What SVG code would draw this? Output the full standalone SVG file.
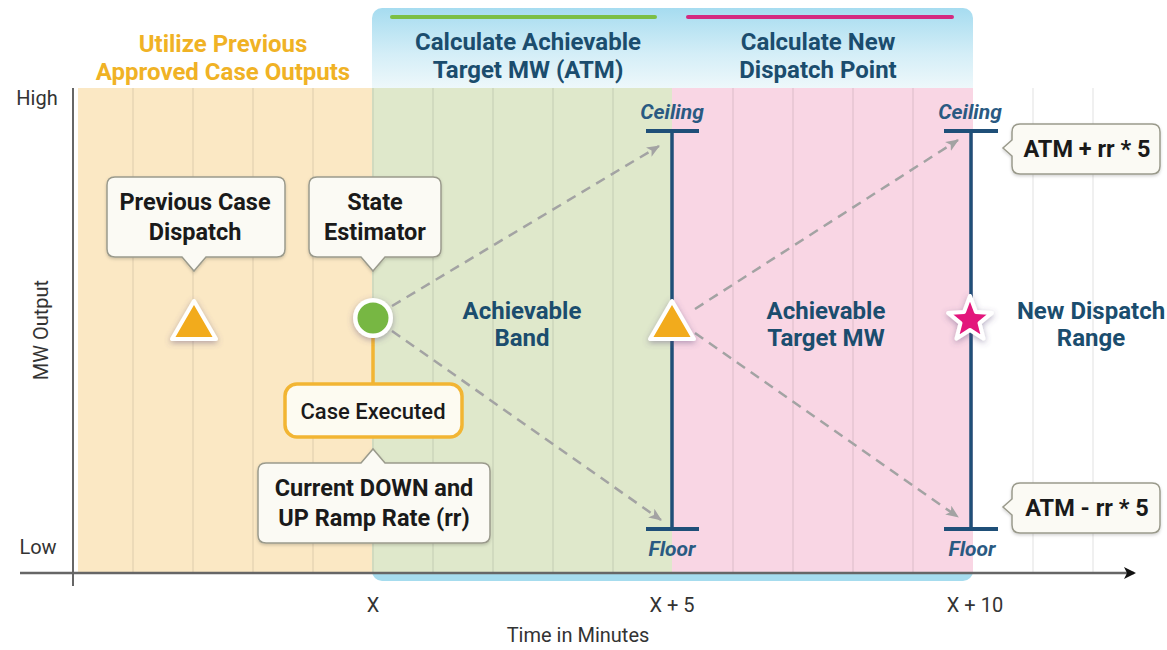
<svg xmlns="http://www.w3.org/2000/svg" width="1167" height="650" viewBox="0 0 1167 650">
<defs>
<linearGradient id="panelGrad" gradientUnits="userSpaceOnUse" x1="0" y1="8" x2="0" y2="92">
<stop offset="0" stop-color="#a6dcf0"/>
<stop offset="0.55" stop-color="#d4eef7"/>
<stop offset="1" stop-color="#f1f9fb"/>
</linearGradient>
<filter id="glow" x="-50%" y="-50%" width="200%" height="200%">
<feDropShadow dx="0" dy="2" stdDeviation="3" flood-color="#5a4a7a" flood-opacity="0.45"/>
</filter>
<filter id="soft" x="-10%" y="-10%" width="120%" height="130%">
<feDropShadow dx="0" dy="1.5" stdDeviation="1.5" flood-color="#000" flood-opacity="0.18"/>
</filter>
<marker id="grayArrow" viewBox="0 0 12 10" refX="11" refY="5" markerWidth="13" markerHeight="11" markerUnits="userSpaceOnUse" orient="auto">
<path d="M0,0 L12,5 L0,10 L3,5 Z" fill="#a3a3a3"/>
</marker>
<marker id="axisArrow" viewBox="0 0 12 12" refX="10" refY="6" markerWidth="12" markerHeight="12" markerUnits="userSpaceOnUse" orient="auto">
<path d="M0,0 L12,6 L0,12 L3,6 Z" fill="#111"/>
</marker>
</defs>
<style>
.grid{stroke:#000;stroke-opacity:0.06;stroke-width:2}
.title{font-family:Roboto,"Liberation Sans",sans-serif;font-weight:700;font-size:24px;text-anchor:middle}
.blue{fill:#1b4d6e}
.orangeT{fill:#f0b225}
.lbl{font-family:Roboto,"Liberation Sans",sans-serif;font-weight:700;font-size:23.5px;text-anchor:middle;fill:#1a1a1a}
.blab{font-family:Roboto,"Liberation Sans",sans-serif;font-weight:700;font-size:24px;text-anchor:middle;fill:#1b4d6e}
.axisT{font-family:Roboto,"Liberation Sans",sans-serif;font-size:20px;fill:#333;text-anchor:middle}
.limit{font-family:Roboto,"Liberation Sans",sans-serif;font-weight:700;font-style:italic;font-size:21px;fill:#2a5a82;text-anchor:middle}
.callout{fill:#fbfaf4;stroke:#9a9a8c;stroke-width:1.5}
.dash{stroke:#a3a3a3;stroke-width:2.5;stroke-dasharray:10 7;fill:none}
.bar{stroke:#1f4f78;stroke-width:4;fill:none}
.vline{stroke:#1f4f78;stroke-width:3.5;fill:none}
</style>

<rect x="0" y="0" width="1167" height="650" fill="#ffffff"/>

<!-- panel and bands -->
<rect x="372" y="8" width="601" height="572" rx="10" fill="url(#panelGrad)"/>
<rect x="372" y="540" width="601" height="41" rx="10" fill="#a6dcee"/>
<rect x="78" y="88" width="294" height="485" fill="#fbe8c4"/>
<rect x="372" y="88" width="300" height="485" fill="#dfe8cb"/>
<rect x="672" y="88" width="301" height="485" fill="#f9d6e4"/>

<g id="grid">
<line class="grid" x1="133" y1="88" x2="133" y2="573"/>
<line class="grid" x1="193" y1="88" x2="193" y2="573"/>
<line class="grid" x1="253" y1="88" x2="253" y2="573"/>
<line class="grid" x1="313" y1="88" x2="313" y2="573"/>
<line class="grid" x1="373" y1="88" x2="373" y2="573"/>
<line class="grid" x1="433" y1="88" x2="433" y2="573"/>
<line class="grid" x1="493" y1="88" x2="493" y2="573"/>
<line class="grid" x1="553" y1="88" x2="553" y2="573"/>
<line class="grid" x1="613" y1="88" x2="613" y2="573"/>
<line class="grid" x1="733" y1="88" x2="733" y2="573"/>
<line class="grid" x1="793" y1="88" x2="793" y2="573"/>
<line class="grid" x1="853" y1="88" x2="853" y2="573"/>
<line class="grid" x1="913" y1="88" x2="913" y2="573"/>
<line class="grid" x1="1033" y1="88" x2="1033" y2="573" stroke-opacity="0.04"/>
<line class="grid" x1="1093" y1="88" x2="1093" y2="573" stroke-opacity="0.04"/>
</g>

<!-- section titles -->
<g id="title-utilize">
<text class="title orangeT" x="223" y="52">Utilize Previous</text>
<text class="title orangeT" x="223" y="80">Approved Case Outputs</text>
</g>
<g id="title-atm">
<line x1="392" y1="17" x2="655" y2="17" stroke="#7cbf45" stroke-width="4" stroke-linecap="round"/>
<text class="title blue" x="528" y="50">Calculate Achievable</text>
<text class="title blue" x="528" y="78">Target MW (ATM)</text>
</g>
<g id="title-dispatch">
<line x1="688" y1="17" x2="952" y2="17" stroke="#d42a80" stroke-width="4" stroke-linecap="round"/>
<text class="title blue" x="818" y="50">Calculate New</text>
<text class="title blue" x="818" y="78">Dispatch Point</text>
</g>

<!-- axes -->
<g id="axes">
<line x1="73" y1="88" x2="73" y2="586" stroke="#666" stroke-width="2"/>
<line x1="20" y1="573" x2="1134" y2="573" stroke="#666" stroke-width="2.5" marker-end="url(#axisArrow)"/>
<text class="axisT" x="37" y="105">High</text>
<text class="axisT" x="38" y="554">Low</text>
<text class="axisT" transform="translate(48,330) rotate(-90)">MW Output</text>
<text class="axisT" x="373" y="612">X</text>
<text class="axisT" x="672" y="612">X + 5</text>
<text class="axisT" x="975" y="612">X + 10</text>
<text class="axisT" x="578" y="642">Time in Minutes</text>
</g>

<!-- connectors -->
<g id="connectors">
<line class="dash" x1="392" y1="306" x2="659" y2="146" marker-end="url(#grayArrow)"/>
<line class="dash" x1="392" y1="331" x2="661" y2="520" marker-end="url(#grayArrow)"/>
<line class="dash" x1="695" y1="309" x2="958" y2="140" marker-end="url(#grayArrow)"/>
<line class="dash" x1="695" y1="333" x2="958" y2="517" marker-end="url(#grayArrow)"/>
<line x1="373" y1="338" x2="373" y2="385" stroke="#f2b533" stroke-width="3.5"/>
</g>

<!-- range at X+5 -->
<g id="range-x5">
<text class="limit" x="672" y="119">Ceiling</text>
<line class="bar" x1="646" y1="131" x2="699" y2="131"/>
<line class="vline" x1="672" y1="131" x2="672" y2="529"/>
<line class="bar" x1="646" y1="529" x2="699" y2="529"/>
<text class="limit" x="672" y="556">Floor</text>
</g>

<!-- range at X+10 -->
<g id="range-x10">
<text class="limit" x="970" y="119">Ceiling</text>
<line class="bar" x1="944" y1="131" x2="998" y2="131"/>
<line class="vline" x1="971" y1="131" x2="971" y2="529"/>
<line class="bar" x1="944" y1="529" x2="998" y2="529"/>
<text class="limit" x="972" y="556">Floor</text>
</g>

<!-- callouts -->
<g id="prev-case-dispatch">
<path class="callout" filter="url(#soft)" d="M115,177 H277 Q285,177 285,185 V249 Q285,257 277,257 H206 L194,271 L182,257 H115 Q107,257 107,249 V185 Q107,177 115,177 Z"/>
<text class="lbl" x="195" y="210">Previous Case</text>
<text class="lbl" x="195" y="240">Dispatch</text>
</g>
<g id="state-estimator">
<path class="callout" filter="url(#soft)" d="M317,177 H433 Q441,177 441,185 V249 Q441,257 433,257 H385 L373,271 L361,257 H317 Q309,257 309,249 V185 Q309,177 317,177 Z"/>
<text class="lbl" x="375" y="210">State</text>
<text class="lbl" x="375" y="240">Estimator</text>
</g>
<g id="case-executed">
<rect x="285" y="384" width="177" height="53" rx="12" fill="#fdfbf1" stroke="#f2b533" stroke-width="3.5"/>
<text x="373" y="419" font-family="Roboto,'Liberation Sans',sans-serif" font-weight="500" font-size="22" fill="#1a1a1a" text-anchor="middle">Case Executed</text>
</g>
<g id="ramp-rate">
<path class="callout" filter="url(#soft)" d="M266,463 H361 L373,449 L385,463 H482 Q490,463 490,471 V535 Q490,543 482,543 H266 Q258,543 258,535 V471 Q258,463 266,463 Z"/>
<text class="lbl" x="374" y="496">Current DOWN and</text>
<text class="lbl" x="374" y="526">UP Ramp Rate (rr)</text>
</g>
<g id="atm-plus">
<path class="callout" filter="url(#soft)" d="M1020,124 H1152 Q1160,124 1160,132 V166 Q1160,174 1152,174 H1020 Q1012,174 1012,166 V156 L1003,148 L1012,140 V132 Q1012,124 1020,124 Z"/>
<text class="lbl" x="1087" y="157">ATM + rr * 5</text>
</g>
<g id="atm-minus">
<path class="callout" filter="url(#soft)" d="M1020,483 H1152 Q1160,483 1160,491 V525 Q1160,533 1152,533 H1020 Q1012,533 1012,525 V515 L1003,507 L1012,499 V491 Q1012,483 1020,483 Z"/>
<text class="lbl" x="1087" y="516">ATM - rr * 5</text>
</g>

<!-- markers -->
<g id="prev-triangle">
<polygon points="194,301 172,339 216,339" fill="#f2ab1b" stroke="#ffffff" stroke-width="4" stroke-linejoin="round" filter="url(#glow)"/>
</g>
<g id="state-circle">
<circle cx="373" cy="318" r="20" fill="#ffffff" filter="url(#glow)"/>
<circle cx="373" cy="318" r="15.5" fill="#77b743"/>
</g>
<g id="atm-triangle">
<polygon points="672,301 650,339 694,339" fill="#f2ab1b" stroke="#ffffff" stroke-width="4" stroke-linejoin="round" filter="url(#glow)"/>
</g>
<g id="dispatch-star">
<polygon points="970,296 975.9,311.9 991.9,312.9 979.5,323.1 983.5,338.6 970,330 956.5,338.6 960.5,323.1 948.1,312.9 964.1,311.9" fill="#e3157c" stroke="#ffffff" stroke-width="4" stroke-linejoin="round" filter="url(#glow)"/>
</g>

<!-- band labels -->
<g id="band-labels">
<text class="blab" x="522" y="319">Achievable</text>
<text class="blab" x="522" y="346">Band</text>
<text class="blab" x="826" y="319">Achievable</text>
<text class="blab" x="826" y="346">Target MW</text>
<text class="blab" x="1091" y="319">New Dispatch</text>
<text class="blab" x="1091" y="346">Range</text>
</g>
</svg>
